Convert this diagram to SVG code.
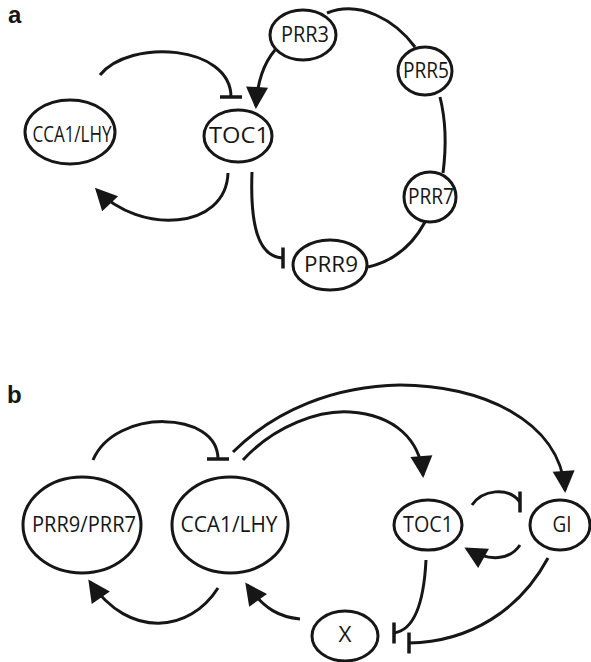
<svg xmlns="http://www.w3.org/2000/svg" width="591" height="662" viewBox="0 0 591 662">
<style>
.node ellipse{fill:#fff;stroke:#161616;stroke-width:3}
.node text{font-family:"Open Sans","Liberation Sans",sans-serif;font-size:21px;fill:#161616;text-anchor:middle}
.lbl{font-family:"Liberation Sans",Arial,sans-serif;font-weight:bold;font-size:24px;fill:#161616}
#connectors path{fill:none;stroke:#161616;stroke-width:3}
</style>
<defs>
<marker id="arr" markerUnits="userSpaceOnUse" markerWidth="22" markerHeight="22" refX="19" refY="11" orient="auto" overflow="visible"><path d="M0,0 L22,11 L0,22 z" fill="#161616"/></marker>
<marker id="barV" markerUnits="userSpaceOnUse" markerWidth="4" markerHeight="22" refX="0" refY="0" orient="0" overflow="visible"><path d="M0,-10.5 L0,10.5" stroke="#161616" stroke-width="3.5" fill="none"/></marker>
<marker id="barH" markerUnits="userSpaceOnUse" markerWidth="4" markerHeight="22" refX="0" refY="0" orient="90" overflow="visible"><path d="M0,-11 L0,11" stroke="#161616" stroke-width="3.5" fill="none"/></marker>
</defs>
<rect width="591" height="662" fill="#fff"/>
<text class="lbl" x="8" y="23">a</text>
<text class="lbl" x="7" y="403">b</text>
<g id="connectors">
<path d="M100,75 C130,38 231,45 231,97" marker-end="url(#barH)"/>
<path d="M228,173 C226,230 140,235 97,190" marker-end="url(#arr)"/>
<path d="M275,50 Q258,70 256,106" marker-end="url(#arr)"/>
<path d="M327,13 C360,0 395,20 415,47"/>
<path d="M440,97 C447,125 446,150 443,173"/>
<path d="M425,222 C410,250 390,262 368,267"/>
<path d="M252,172 C250,225 258,257 283,258" marker-end="url(#barV)"/>
<path d="M93,460 C115,408 218,410 218,459" marker-end="url(#barH)"/>
<path d="M218,588 C190,632 130,640 90,582" marker-end="url(#arr)"/>
<path d="M300,619 C280,617 265,610 247,585" marker-end="url(#arr)"/>
<path d="M243,460 C275,425 320,410 350,412 C395,415 420,440 423,475" marker-end="url(#arr)"/>
<path d="M233,452 C275,410 335,386 400,385 C480,385 560,420 565,490" marker-end="url(#arr)"/>
<path d="M472,505 C482,490 508,486 520,502" marker-end="url(#barV)"/>
<path d="M520,545 C510,560 490,562 467,549" marker-end="url(#arr)"/>
<path d="M426,560 C424,600 415,630 394,633" marker-end="url(#barV)"/>
<path d="M548,558 C520,610 470,642 409,643" marker-end="url(#barV)"/>
</g>
<g id="a-cca1" class="node"><ellipse cx="70" cy="132" rx="45" ry="32"/><text x="72" y="142" textLength="79" lengthAdjust="spacingAndGlyphs">CCA1/LHY</text></g>
<g id="a-toc1" class="node"><ellipse cx="238" cy="136" rx="34" ry="26"/><text x="239" y="143" textLength="60" lengthAdjust="spacingAndGlyphs">TOC1</text></g>
<g id="a-prr3" class="node"><ellipse cx="303" cy="35" rx="33" ry="25"/><text x="305" y="42" textLength="48" lengthAdjust="spacingAndGlyphs">PRR3</text></g>
<g id="a-prr5" class="node"><ellipse cx="425" cy="71" rx="27" ry="24"/><text x="426" y="78" textLength="46" lengthAdjust="spacingAndGlyphs">PRR5</text></g>
<g id="a-prr7" class="node"><ellipse cx="430" cy="197" rx="26" ry="25"/><text x="431" y="204" textLength="46" lengthAdjust="spacingAndGlyphs">PRR7</text></g>
<g id="a-prr9" class="node"><ellipse cx="330" cy="265" rx="37" ry="25"/><text x="331" y="272" textLength="54" lengthAdjust="spacingAndGlyphs">PRR9</text></g>
<g id="b-prr97" class="node"><ellipse cx="82" cy="525" rx="59" ry="48"/><text x="84" y="532" textLength="104" lengthAdjust="spacingAndGlyphs">PRR9/PRR7</text></g>
<g id="b-cca1" class="node"><ellipse cx="230" cy="525" rx="58" ry="48"/><text x="229" y="532" textLength="97" lengthAdjust="spacingAndGlyphs">CCA1/LHY</text></g>
<g id="b-toc1" class="node"><ellipse cx="428" cy="525" rx="34" ry="25"/><text x="428" y="532" textLength="50" lengthAdjust="spacingAndGlyphs">TOC1</text></g>
<g id="b-gi" class="node"><ellipse cx="560" cy="525" rx="30" ry="25"/><text x="562" y="532" textLength="19" lengthAdjust="spacingAndGlyphs">GI</text></g>
<g id="b-x" class="node"><ellipse cx="345" cy="636" rx="33" ry="25"/><text x="345" y="642" textLength="13" lengthAdjust="spacingAndGlyphs">X</text></g>
</svg>
